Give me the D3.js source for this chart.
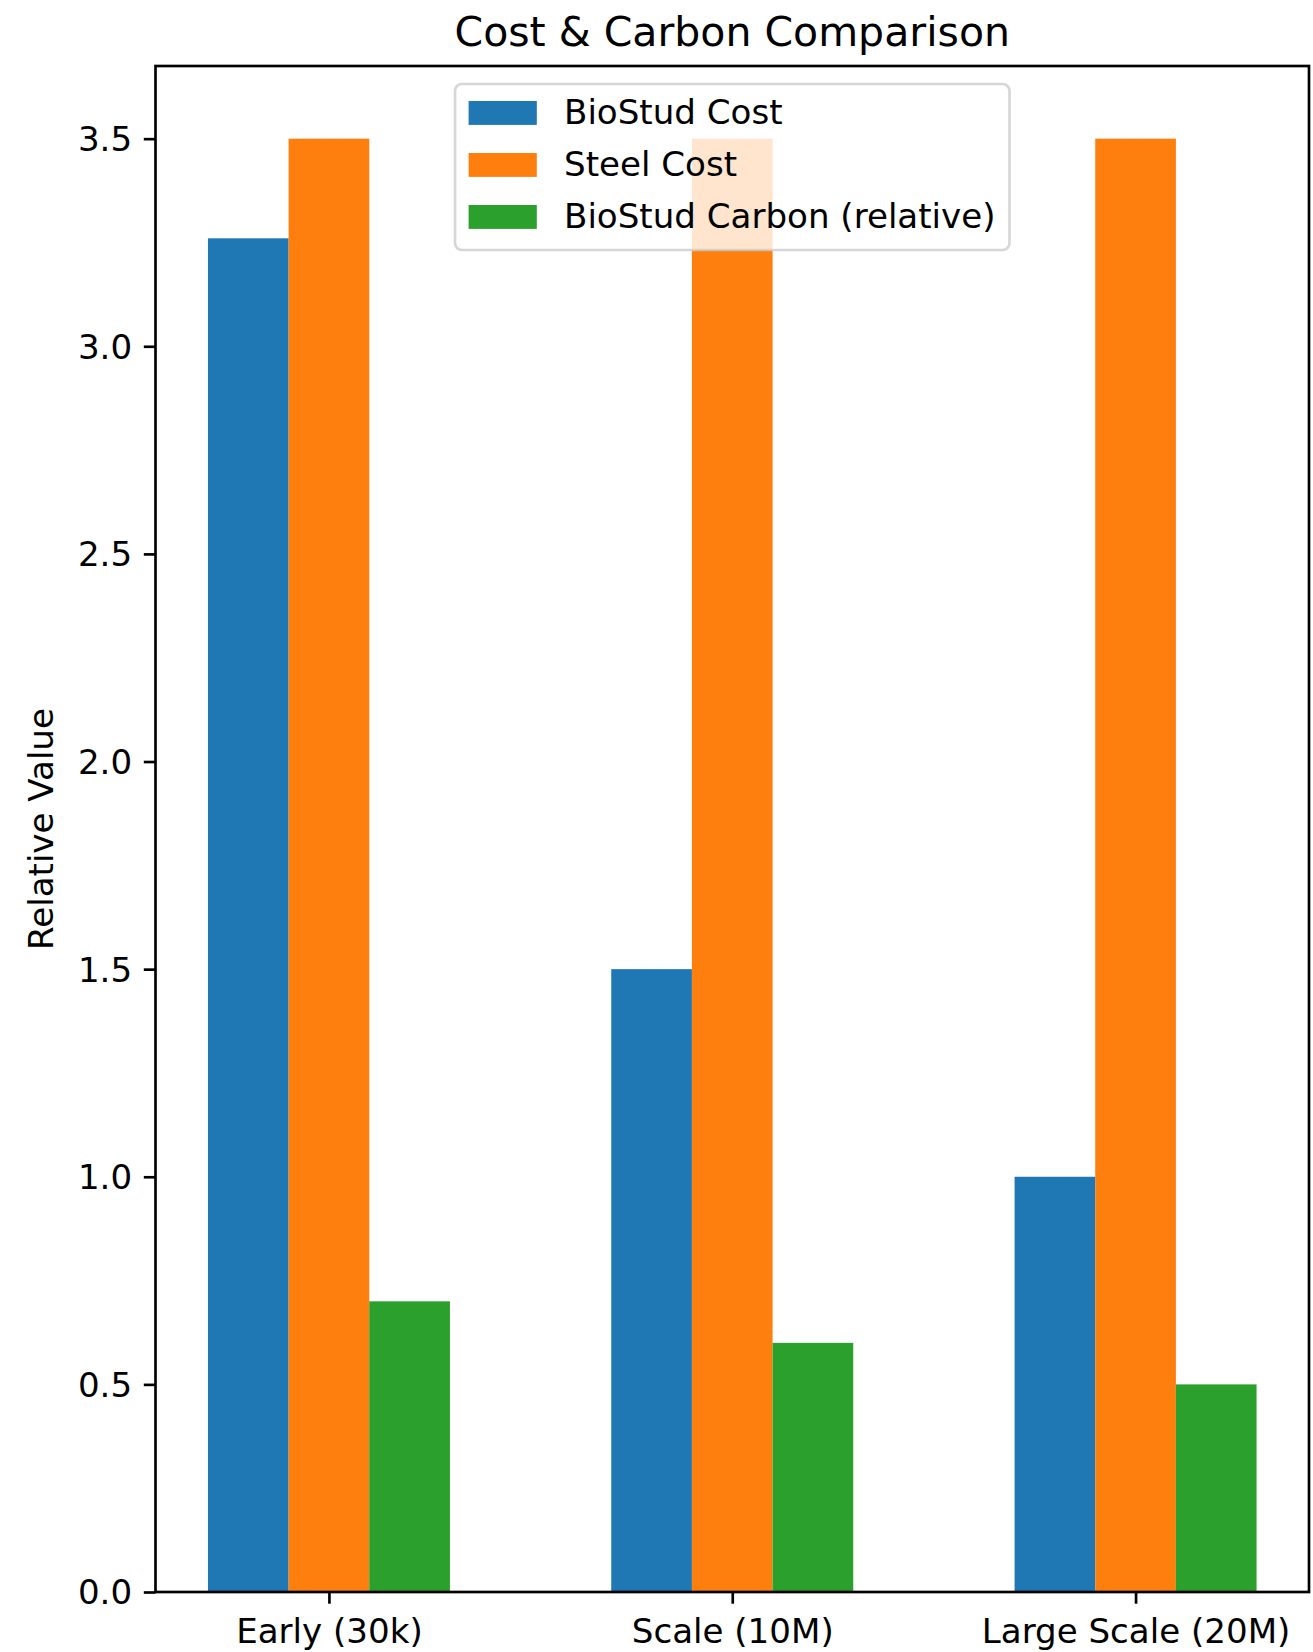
<!DOCTYPE html>
<html>
  <head>
    <meta charset="UTF-8">
    <title>Cost & Carbon Comparison</title>
    <script type="text/javascript" src="https://cdn.jsdelivr.net/npm/d3@7/dist/d3.min.js"></script>
    <style>
      body { margin: 0; background: #fff; }
      svg { display: block; font-family: "DejaVu Sans", sans-serif; }
    </style>
  </head>
  <body>
    <svg width="1313" height="1652"></svg>
    <script>
      // data
      var categories = ["Early (30k)", "Scale (10M)", "Large Scale (20M)"];
      var seriesNames = ["BioStud Cost", "Steel Cost", "BioStud Carbon (relative)"];
      var bioCost = [3.26, 1.5, 1.0];
      var steelCost = [3.5, 3.5, 3.5];
      var bioCarbon = [0.7, 0.6, 0.5];
      var yTicks = [0, 0.5, 1.0, 1.5, 2.0, 2.5, 3.0, 3.5];

      var series = [bioCost, steelCost, bioCarbon];
      var colors = ["#1f77b4", "#ff7f0e", "#2ca02c"];
      var barW = 0.2;

      var svg = d3.select("svg");
      var marge = {top: 66, bottom: 60, left: 155.5, right: 4};
      var width = +svg.attr("width");
      var height = +svg.attr("height");
      var plotW = width - marge.left - marge.right;
      var plotH = 1592 - marge.top;
      var fs = 34.1;
      var tickLen = 11.7;
      var lw = 2.67;

      var g = svg.append("g")
        .attr("transform", "translate(" + marge.left + "," + marge.top + ")");

      var xScale = d3.scaleLinear()
        .domain([-0.43, categories.length - 1 + 0.43])
        .range([0, plotW]);
      var ymax = d3.max(series, function(s) { return d3.max(s); }) * 1.05;
      var yScale = d3.scaleLinear()
        .domain([0, ymax])
        .range([plotH, 0]);

      // bars
      series.forEach(function(s, j) {
        g.selectAll(".bar" + j)
          .data(s)
          .enter()
          .append("rect")
          .attr("x", function(d, i) { return xScale(i + (j - 1) * barW - barW / 2); })
          .attr("y", function(d) { return yScale(d); })
          .attr("width", function() { return xScale(barW) - xScale(0); })
          .attr("height", function(d) { return plotH - yScale(d); })
          .attr("fill", colors[j]);
      });

      // axes
      var xAxis = d3.axisBottom(xScale)
        .tickValues(d3.range(categories.length))
        .tickFormat(function(d) { return categories[d]; })
        .tickSize(tickLen)
        .tickPadding(tickLen);
      var yAxis = d3.axisLeft(yScale)
        .tickValues(yTicks)
        .tickFormat(d3.format(".1f"))
        .tickSize(tickLen)
        .tickPadding(tickLen);

      var gx = g.append("g")
        .attr("transform", "translate(0," + plotH + ")")
        .call(xAxis);
      var gy = g.append("g").call(yAxis);

      [gx, gy].forEach(function(a) {
        a.select(".domain").remove();
        a.selectAll(".tick line").attr("stroke", "#000").attr("stroke-width", lw);
        a.selectAll(".tick text")
          .attr("fill", "#000")
          .style("font-size", fs + "px")
          .style("font-family", "DejaVu Sans");
      });
      gx.selectAll(".tick text").attr("dy", "0.82em");
      gy.selectAll(".tick text").attr("dy", "0.35em");

      // frame
      g.append("rect")
        .attr("x", 0).attr("y", 0)
        .attr("width", plotW).attr("height", plotH)
        .attr("fill", "none")
        .attr("stroke", "#000")
        .attr("stroke-width", lw);

      // title
      svg.append("text")
        .attr("x", marge.left + plotW / 2)
        .attr("y", marge.top - 20)
        .attr("text-anchor", "middle")
        .style("font-size", "41px")
        .text("Cost & Carbon Comparison");

      // y label
      svg.append("text")
        .attr("transform", "translate(53," + (marge.top + plotH / 2) + ") rotate(-90)")
        .attr("text-anchor", "middle")
        .style("font-size", fs + "px")
        .text("Relative Value");

      // legend
      var lg = svg.append("g");
      var lbox = lg.append("rect");
      var lx = 0, ly = marge.top + 18;
      var rowH = 52;
      var items = lg.selectAll(".item")
        .data(seriesNames)
        .enter()
        .append("g");
      items.append("rect")
        .attr("x", 13.6)
        .attr("y", function(d, i) { return 17 + i * rowH; })
        .attr("width", 68.2)
        .attr("height", 23.9)
        .attr("fill", function(d, i) { return colors[i]; });
      items.append("text")
        .attr("x", 109)
        .attr("y", function(d, i) { return 40 + i * rowH; })
        .style("font-size", fs + "px")
        .attr("fill", "#000")
        .text(function(d) { return d; });
      var maxW = 0;
      items.selectAll("text").each(function() {
        maxW = Math.max(maxW, this.getComputedTextLength());
      });
      var lw2 = 109 + maxW + 14;
      var lh = 166;
      lbox.attr("x", 0).attr("y", 0)
        .attr("width", lw2).attr("height", lh)
        .attr("rx", 6.8).attr("ry", 6.8)
        .attr("fill", "#fff")
        .attr("fill-opacity", 0.8)
        .attr("stroke", "#cccccc")
        .attr("stroke-opacity", 0.8)
        .attr("stroke-width", lw);
      lx = marge.left + plotW / 2 - lw2 / 2;
      lg.attr("transform", "translate(" + lx + "," + ly + ")");
    </script>
  </body>
</html>
